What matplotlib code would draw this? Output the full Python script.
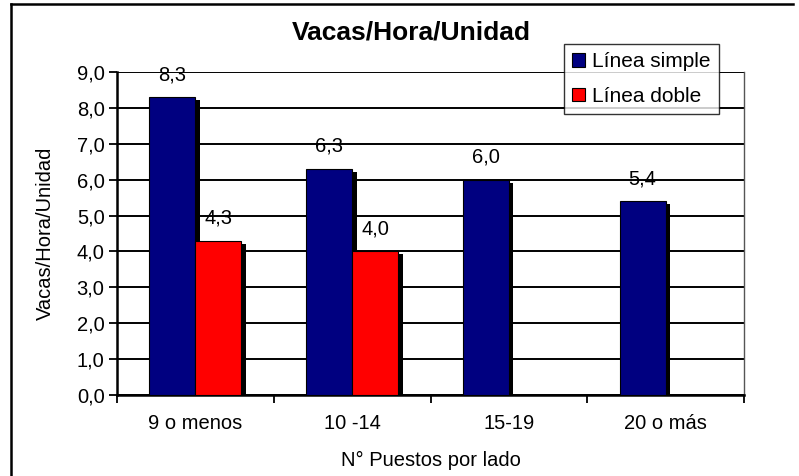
import matplotlib as mpl
mpl.use('Agg')
import matplotlib.pyplot as plt
import matplotlib.transforms as mtransforms
from matplotlib.lines import Line2D
import numpy as np

# data
categorias = ['9 o menos', '10 -14', '15-19', '20 o más']
linea_simple = [8.3, 6.3, 6.0, 5.4]
linea_doble = [4.3, 4.0, np.nan, np.nan]
yticks = [0, 1, 2, 3, 4, 5, 6, 7, 8, 9]

plt.rcParams['font.family'] = ['Liberation Sans', 'DejaVu Sans']

W, H = 799, 476
fig = plt.figure(figsize=(W / 100, H / 100), dpi=100)
# plot area in pixels: left 117, right 744, top 72, bottom 395
ax = fig.add_axes([117 / W, 1 - 395 / H, (744 - 117) / W, (395 - 72) / H])

fs = 14.5
x = np.arange(len(categorias))
ancho = 0.293
sombra = mtransforms.offset_copy(ax.transData, fig=fig, x=4.5, y=-3, units='dots')

for serie, off in [(linea_simple, -ancho / 2), (linea_doble, ancho / 2)]:
    vals = np.array(serie, dtype=float)
    ax.bar(x + off, vals, ancho, color='black', transform=sombra, zorder=3)

for serie, color, off, nombre in [(linea_simple, '#000080', -ancho / 2, 'Línea simple'),
                                  (linea_doble, '#FF0000', ancho / 2, 'Línea doble')]:
    vals = np.array(serie, dtype=float)
    ax.bar(x + off, vals, ancho, color=color, edgecolor='black', linewidth=0.8,
           zorder=4, label=nombre)
    for xi, v in zip(x + off, vals):
        if not np.isnan(v):
            ax.text(xi, v + 0.63, ('%.1f' % v).replace('.', ','), ha='center', va='center',
                    fontsize=fs, zorder=6)

ax.set_xlim(-0.5, len(categorias) - 0.5)
ax.set_ylim(0, 9)
ax.set_yticks(yticks)
ax.set_yticklabels([('%.1f' % t).replace('.', ',') for t in yticks], fontsize=fs)
ax.set_xticks(x)
ax.set_xticklabels(categorias, fontsize=fs)
ax.set_xticks(np.arange(-0.5, len(categorias)), minor=True)
ax.tick_params(axis='x', which='major', length=0, pad=14)
ax.tick_params(axis='x', which='minor', length=6, width=1.3, direction='out')
ax.tick_params(axis='y', length=6, width=1.3, direction='out', pad=3)

ax.yaxis.grid(True, color='black', linewidth=1.4, zorder=1)
ax.set_axisbelow(True)
ax.spines['left'].set_linewidth(1.8)
ax.spines['bottom'].set_linewidth(1.8)
ax.spines['right'].set_color('#555555')
ax.spines['right'].set_linewidth(1.0)
ax.spines['top'].set_visible(False)

ax.set_ylabel('Vacas/Hora/Unidad', fontsize=fs)
ax.yaxis.set_label_coords((45 - 117) / 627, 0.5)
ax.set_xlabel('N° Puestos por lado', fontsize=fs)
ax.xaxis.set_label_coords(0.5, -(460 - 395) / 323)
ax.xaxis.label.set_va('center')
ax.yaxis.label.set_va('center')

fig.text(411 / W, 1 - 33 / H, 'Vacas/Hora/Unidad', ha='center', va='center',
         fontsize=19, fontweight='bold')

leg = ax.legend(loc='upper left', bbox_to_anchor=((564 - 117) / 627, 1 + (72 - 44) / 323),
                fontsize=15, frameon=True, fancybox=False, edgecolor='black',
                handlelength=0.6, handleheight=0.6, handletextpad=0.35, borderpad=0.4,
                labelspacing=0.75, borderaxespad=0)
leg.get_frame().set_linewidth(1.0)
leg.set_zorder(10)

# outer chart border (only top and left visible)
fig.add_artist(Line2D([11 / W, 793 / W], [1 - 4 / H, 1 - 4 / H], color='black', linewidth=1.8))
fig.add_artist(Line2D([11 / W, 11 / W], [1 - 4 / H, 0], color='black', linewidth=1.8))

fig.savefig('out.png', dpi=100)
